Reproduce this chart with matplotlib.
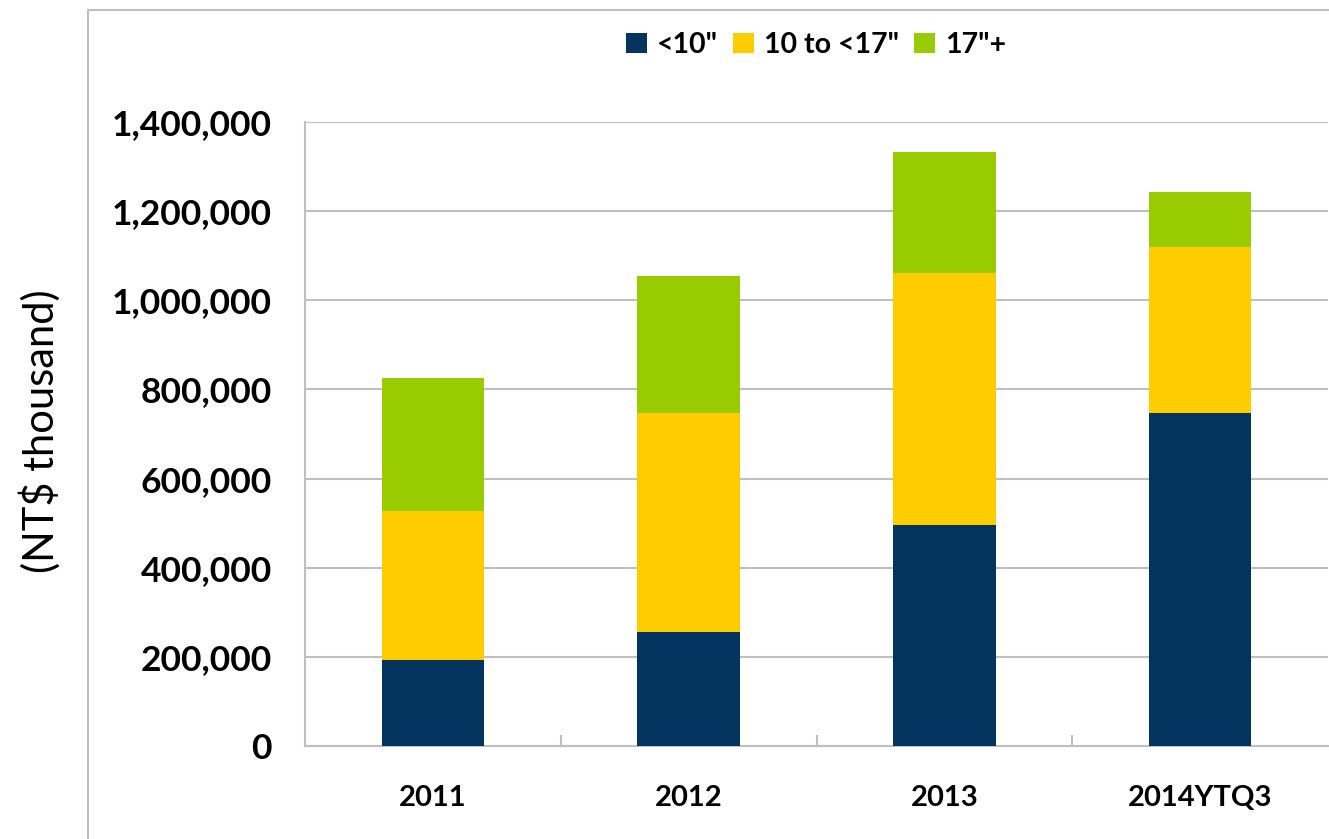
import matplotlib
matplotlib.use("Agg")
import matplotlib.pyplot as plt
from matplotlib.patches import Rectangle
from matplotlib.ticker import FuncFormatter
import numpy as np

categories = ["2011", "2012", "2013", "2014YTQ3"]
series_names = ['<10"', '10 to <17"', '17"+']
small = [193000, 256000, 496000, 747000]
mid = [334000, 491000, 565000, 373000]
large = [299000, 307000, 272000, 123000]
colors = ["#02345F", "#FFCC00", "#99CC00"]

plt.rcParams['font.family'] = ['Lato', 'DejaVu Sans']

fig = plt.figure(figsize=(13.29, 8.39), dpi=100)
W, H = 1329, 839
# outer chart frame
fig.patches.append(Rectangle((88 / W, -0.1), 1.2, (H - 10) / H + 0.1, transform=fig.transFigure,
                             fill=False, edgecolor="#BFBFBF", linewidth=1.5))

ax = fig.add_axes([305 / W, (H - 746) / H, (1328 - 305) / W, (746 - 122) / H])
x = np.arange(len(categories))
bottom = np.zeros(len(categories))
for vals, name, c in zip([small, mid, large], series_names, colors):
    ax.bar(x, vals, width=0.4, bottom=bottom, color=c, label=name, zorder=3)
    bottom += np.array(vals)

ax.set_xlim(-0.5, len(categories) - 0.5)
ax.set_ylim(0, 1400000)
ax.set_yticks(np.arange(0, 1400001, 200000))
ax.yaxis.set_major_formatter(FuncFormatter(lambda v, p: f"{int(v):,}"))
ax.grid(axis='y', color="#BFBFBF", linewidth=1.5, zorder=0)
for s in ['top', 'right']:
    ax.spines[s].set_visible(False)
for s in ['left', 'bottom']:
    ax.spines[s].set_color("#BFBFBF")
    ax.spines[s].set_linewidth(1.5)
ax.tick_params(axis='y', length=0, pad=24, labelsize=25.5)
for lab in ax.get_yticklabels():
    lab.set_fontweight('bold')
ax.set_xticks(x)
ax.set_xticklabels(categories, fontsize=21, fontweight='bold')
ax.tick_params(axis='x', length=0, pad=28)
ax.set_xticks(np.arange(0.5, len(categories) - 0.5, 1), minor=True)
ax.tick_params(axis='x', which='minor', direction='in', length=8, width=1.5, color="#BFBFBF")

fig.text(40 / W, 1 - 431 / H, "(NT$ thousand)", rotation=90, ha='center', va='center', fontsize=30)

leg = fig.legend(loc='center', bbox_to_anchor=(816 / W, 1 - 45 / H), ncol=3, frameon=False,
                 prop={'weight': 'bold', 'size': 20.5}, handlelength=0.72, handleheight=0.72,
                 handletextpad=0.35, columnspacing=0.55)

fig.savefig("out.png", dpi=100)
